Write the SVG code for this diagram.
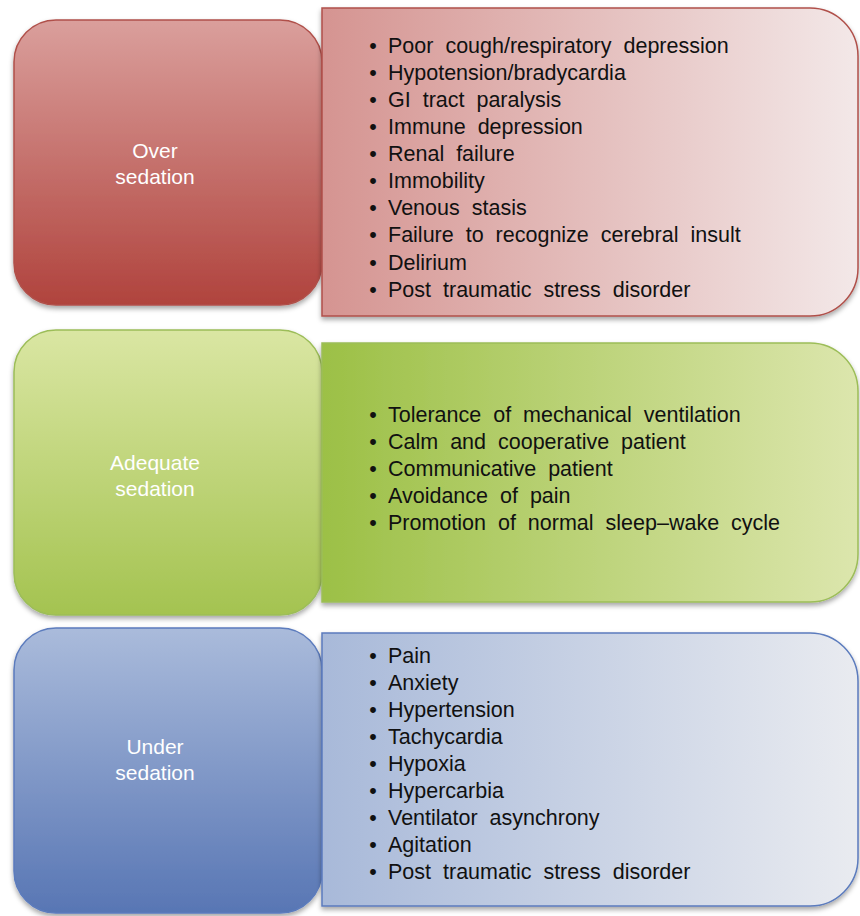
<svg xmlns="http://www.w3.org/2000/svg" width="860" height="916" viewBox="0 0 860 916">
<defs>
<linearGradient id="gRedL" x1="0" y1="0" x2="0" y2="1"><stop offset="0" stop-color="#da9f9c"/><stop offset="1" stop-color="#b0433d"/></linearGradient>
<linearGradient id="gRedR" x1="0" y1="0" x2="1" y2="0"><stop offset="0" stop-color="#d59491"/><stop offset="1" stop-color="#f3e8e8"/></linearGradient>
<linearGradient id="gGrnL" x1="0" y1="0" x2="0" y2="1"><stop offset="0" stop-color="#dae6a3"/><stop offset="1" stop-color="#a4c350"/></linearGradient>
<linearGradient id="gGrnR" x1="0" y1="0" x2="1" y2="0"><stop offset="0" stop-color="#9cc046"/><stop offset="1" stop-color="#dce6ad"/></linearGradient>
<linearGradient id="gBluL" x1="0" y1="0" x2="0" y2="1"><stop offset="0" stop-color="#aabbdb"/><stop offset="1" stop-color="#5876b4"/></linearGradient>
<linearGradient id="gBluR" x1="0" y1="0" x2="1" y2="0"><stop offset="0" stop-color="#a8b9d9"/><stop offset="1" stop-color="#e9ebf0"/></linearGradient>
<filter id="sh" x="-5%" y="-5%" width="110%" height="115%"><feDropShadow dx="0" dy="3" stdDeviation="2.5" flood-color="#000" flood-opacity="0.35"/></filter>
</defs>
<style>
.lbl{font-family:"Liberation Sans",Arial,Helvetica,sans-serif;font-size:21px;fill:#fff;text-anchor:middle}
.lst{font-family:"Liberation Sans",Arial,Helvetica,sans-serif;font-size:21.5px;fill:#111;word-spacing:6px}
.bul{font-family:"Liberation Sans",Arial,Helvetica,sans-serif;font-size:21.5px;fill:#111;text-anchor:middle}
.red{stroke:#b0504a;stroke-width:1.5}
.grn{stroke:#9cbd58;stroke-width:1.5}
.blu{stroke:#5b7bbd;stroke-width:1.5}
</style>
<rect width="860" height="916" fill="#fff"/>

<g id="over-sedation">
<rect x="14" y="20" width="308" height="285" rx="42" ry="42" fill="url(#gRedL)" class="red" filter="url(#sh)"/>
<text class="lbl" x="155" y="158">Over</text>
<text class="lbl" x="155" y="184">sedation</text>
</g>
<g id="over-effects">
<path d="M322 8 H810 A48 48 0 0 1 858 56 V268 A48 48 0 0 1 810 316 H322 Z" fill="url(#gRedR)" class="red" filter="url(#sh)"/>
<g class="bul">
<text x="373" y="53">•</text><text x="373" y="80">•</text><text x="373" y="107">•</text><text x="373" y="134">•</text><text x="373" y="161">•</text>
<text x="373" y="188">•</text><text x="373" y="215">•</text><text x="373" y="242">•</text><text x="373" y="270">•</text><text x="373" y="297">•</text>
</g>
<text class="lst" x="388" y="53">Poor cough/respiratory depression</text>
<text class="lst" x="388" y="80">Hypotension/bradycardia</text>
<text class="lst" x="388" y="107">GI tract paralysis</text>
<text class="lst" x="388" y="134">Immune depression</text>
<text class="lst" x="388" y="161">Renal failure</text>
<text class="lst" x="388" y="188">Immobility</text>
<text class="lst" x="388" y="215">Venous stasis</text>
<text class="lst" x="388" y="242">Failure to recognize cerebral insult</text>
<text class="lst" x="388" y="270">Delirium</text>
<text class="lst" x="388" y="297">Post traumatic stress disorder</text>
</g>

<g id="adequate-sedation">
<rect x="14" y="330" width="308" height="285" rx="42" ry="42" fill="url(#gGrnL)" class="grn" filter="url(#sh)"/>
<text class="lbl" x="155" y="470">Adequate</text>
<text class="lbl" x="155" y="496">sedation</text>
</g>
<g id="adequate-effects">
<path d="M322 343 H810 A48 48 0 0 1 858 391 V554 A48 48 0 0 1 810 602 H322 Z" fill="url(#gGrnR)" class="grn" filter="url(#sh)"/>
<g class="bul">
<text x="373" y="422">•</text><text x="373" y="449">•</text><text x="373" y="476">•</text><text x="373" y="503">•</text><text x="373" y="530">•</text>
</g>
<text class="lst" x="388" y="422">Tolerance of mechanical ventilation</text>
<text class="lst" x="388" y="449">Calm and cooperative patient</text>
<text class="lst" x="388" y="476">Communicative patient</text>
<text class="lst" x="388" y="503">Avoidance of pain</text>
<text class="lst" x="388" y="530">Promotion of normal sleep–wake cycle</text>
</g>

<g id="under-sedation">
<rect x="14" y="628" width="308" height="285" rx="42" ry="42" fill="url(#gBluL)" class="blu" filter="url(#sh)"/>
<text class="lbl" x="155" y="754">Under</text>
<text class="lbl" x="155" y="780">sedation</text>
</g>
<g id="under-effects">
<path d="M322 633 H810 A48 48 0 0 1 858 681 V858 A48 48 0 0 1 810 906 H322 Z" fill="url(#gBluR)" class="blu" filter="url(#sh)"/>
<g class="bul">
<text x="373" y="663">•</text><text x="373" y="690">•</text><text x="373" y="717">•</text><text x="373" y="744">•</text><text x="373" y="771">•</text>
<text x="373" y="798">•</text><text x="373" y="825">•</text><text x="373" y="852">•</text><text x="373" y="879">•</text>
</g>
<text class="lst" x="388" y="663">Pain</text>
<text class="lst" x="388" y="690">Anxiety</text>
<text class="lst" x="388" y="717">Hypertension</text>
<text class="lst" x="388" y="744">Tachycardia</text>
<text class="lst" x="388" y="771">Hypoxia</text>
<text class="lst" x="388" y="798">Hypercarbia</text>
<text class="lst" x="388" y="825">Ventilator asynchrony</text>
<text class="lst" x="388" y="852">Agitation</text>
<text class="lst" x="388" y="879">Post traumatic stress disorder</text>
</g>

<g id="connectors"></g>
</svg>
